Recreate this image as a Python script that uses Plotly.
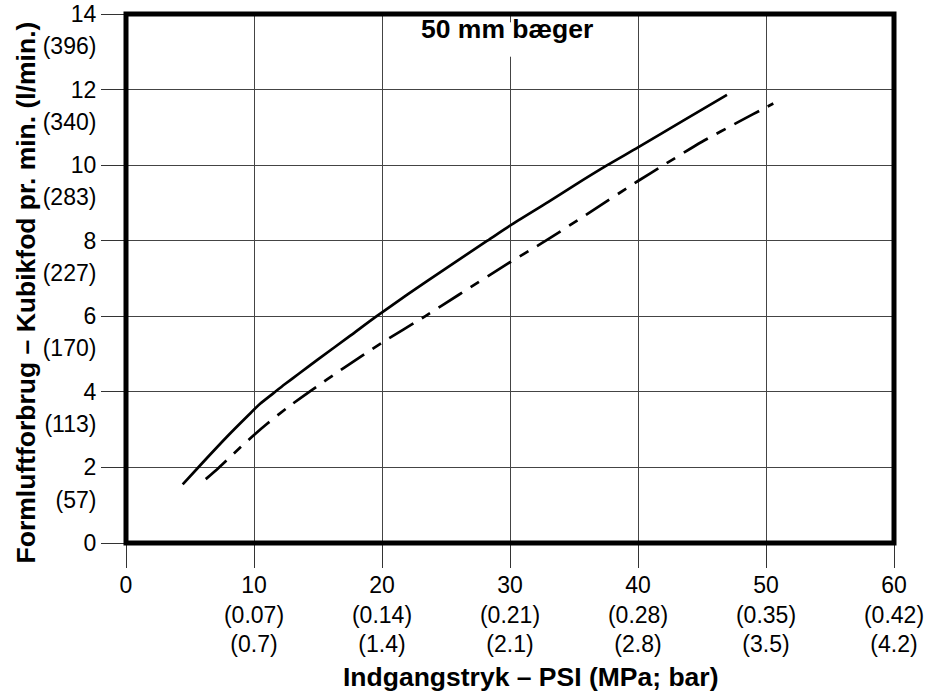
import plotly.graph_objects as go

# ---- data ----
psi_ticks = [0, 10, 20, 30, 40, 50, 60]
mpa_labels = ["", "(0.07)", "(0.14)", "(0.21)", "(0.28)", "(0.35)", "(0.42)"]
bar_labels = ["", "(0.7)", "(1.4)", "(2.1)", "(2.8)", "(3.5)", "(4.2)"]

cfm_ticks = [0, 2, 4, 6, 8, 10, 12, 14]
lpm_ticks = [2, 4, 6, 8, 10, 12, 14]
lpm_labels = ["(57)", "(113)", "(170)", "(227)", "(283)", "(340)", "(396)"]

solid_psi = [4.43, 6.0, 8.0, 9.5, 10.5, 11.5, 12.4, 13.5, 15, 17.5, 19.45, 22, 25,
             28.23, 30, 33, 35, 37.6, 40, 43.5, 46.95]
solid_cfm = [1.55, 2.13, 2.85, 3.36, 3.69, 3.96, 4.2, 4.48, 4.86, 5.48, 5.97, 6.58, 7.27,
             8.0, 8.4, 9.03, 9.46, 10.0, 10.47, 11.17, 11.86]

dashed_psi = [6.23, 7.27, 8.9, 10.0, 11.0, 12.68, 14.4, 17, 20, 23.36, 26, 30,
              32.8, 36, 40, 42, 45, 48, 50, 50.57]
dashed_cfm = [1.69, 2.0, 2.52, 2.86, 3.15, 3.6, 4.02, 4.63, 5.3, 6.0, 6.57, 7.43,
              8.0, 8.7, 9.58, 10.0, 10.62, 11.17, 11.53, 11.63]

title_text = "50 mm bæger"
x_title = "Indgangstryk – PSI (MPa; bar)"
y_title = "Formluftforbrug – Kubikfod pr. min. (l/min.)"

FONT = "Liberation Sans, Arial, Helvetica, sans-serif"
TICK_SIZE = 23
TITLE_SIZE = 26.5

x_ticktext = []
for v, m, b in zip(psi_ticks, mpa_labels, bar_labels):
    x_ticktext.append(str(v) if not m else f"{v}<br>{m}<br>{b}")

label_offset = 0.85  # secondary labels sit just under each tick label
lpm_pos = [v - label_offset for v in lpm_ticks]

fig = go.Figure()
fig.add_trace(go.Scatter(x=solid_psi, y=solid_cfm, mode="lines",
                         line=dict(color="black", width=2.7, shape="spline", smoothing=0.7),
                         showlegend=False, hoverinfo="skip"))
fig.add_trace(go.Scatter(x=dashed_psi, y=dashed_cfm, mode="lines",
                         line=dict(color="black", width=2.7, shape="spline", smoothing=0.7,
                                   dash="28px,10px,10px,10px"),
                         showlegend=False, hoverinfo="skip"))
# invisible trace to activate secondary y axis used for (l/min) labels
fig.add_trace(go.Scatter(x=[None], y=[None], yaxis="y2", showlegend=False, hoverinfo="skip"))

axis_common = dict(ticks="outside", ticklen=24, tickwidth=1, tickcolor="#333",
                   showline=False, zeroline=False, automargin=False,
                   tickfont=dict(family=FONT, size=TICK_SIZE, color="black"))

fig.update_layout(
    width=936, height=697,
    margin=dict(l=126, r=42, t=14, b=154),
    paper_bgcolor="white", plot_bgcolor="white",
    xaxis=dict(range=[0, 60], tickmode="array", tickvals=psi_ticks, ticktext=x_ticktext,
               showgrid=True, gridcolor="#444", gridwidth=1, ticklabelstandoff=-3,
               **axis_common),
    yaxis=dict(range=[0, 14], tickmode="array", tickvals=cfm_ticks,
               ticktext=[str(v) for v in cfm_ticks],
               showgrid=True, gridcolor="#444", gridwidth=1, **axis_common),
    yaxis2=dict(range=[0, 14], overlaying="y", side="left", tickmode="array",
                tickvals=lpm_pos, ticktext=lpm_labels, showgrid=False,
                ticks="outside", ticklen=24, tickcolor="rgba(0,0,0,0)",
                showline=False, zeroline=False, automargin=False,
                tickfont=dict(family=FONT, size=TICK_SIZE, color="black")),
    shapes=[
        # white mask behind the title (breaks the x=30 gridline like the original)
        dict(type="rect", xref="x", yref="y", x0=29.7, x1=30.3, y0=12.87, y1=13.78,
             fillcolor="white", line=dict(width=0), layer="between"),
        dict(type="rect", xref="paper", yref="paper", x0=0, x1=1, y0=0, y1=1,
             line=dict(color="black", width=5), layer="above"),
    ],
    annotations=[
        dict(text=f"<b>{title_text}</b>", x=30, xref="x", y=0.972, yref="paper",
             xanchor="center", yanchor="middle", showarrow=False, xshift=-3,
             font=dict(family=FONT, size=TITLE_SIZE, color="black")),
        dict(text=f"<b>{x_title}</b>", x=0.527, xref="paper", y=-0.254, yref="paper",
             xanchor="center", yanchor="middle", showarrow=False,
             font=dict(family=FONT, size=TITLE_SIZE, color="black")),
        dict(text=f"<b>{y_title}</b>", x=-0.130, xref="paper", y=0.474, yref="paper",
             xanchor="center", yanchor="middle", showarrow=False, textangle=-90,
             font=dict(family=FONT, size=TITLE_SIZE, color="black")),
    ],
)

fig.write_html("out.html", config={"displayModeBar": False},
               post_script="document.body.style.margin='0';")
